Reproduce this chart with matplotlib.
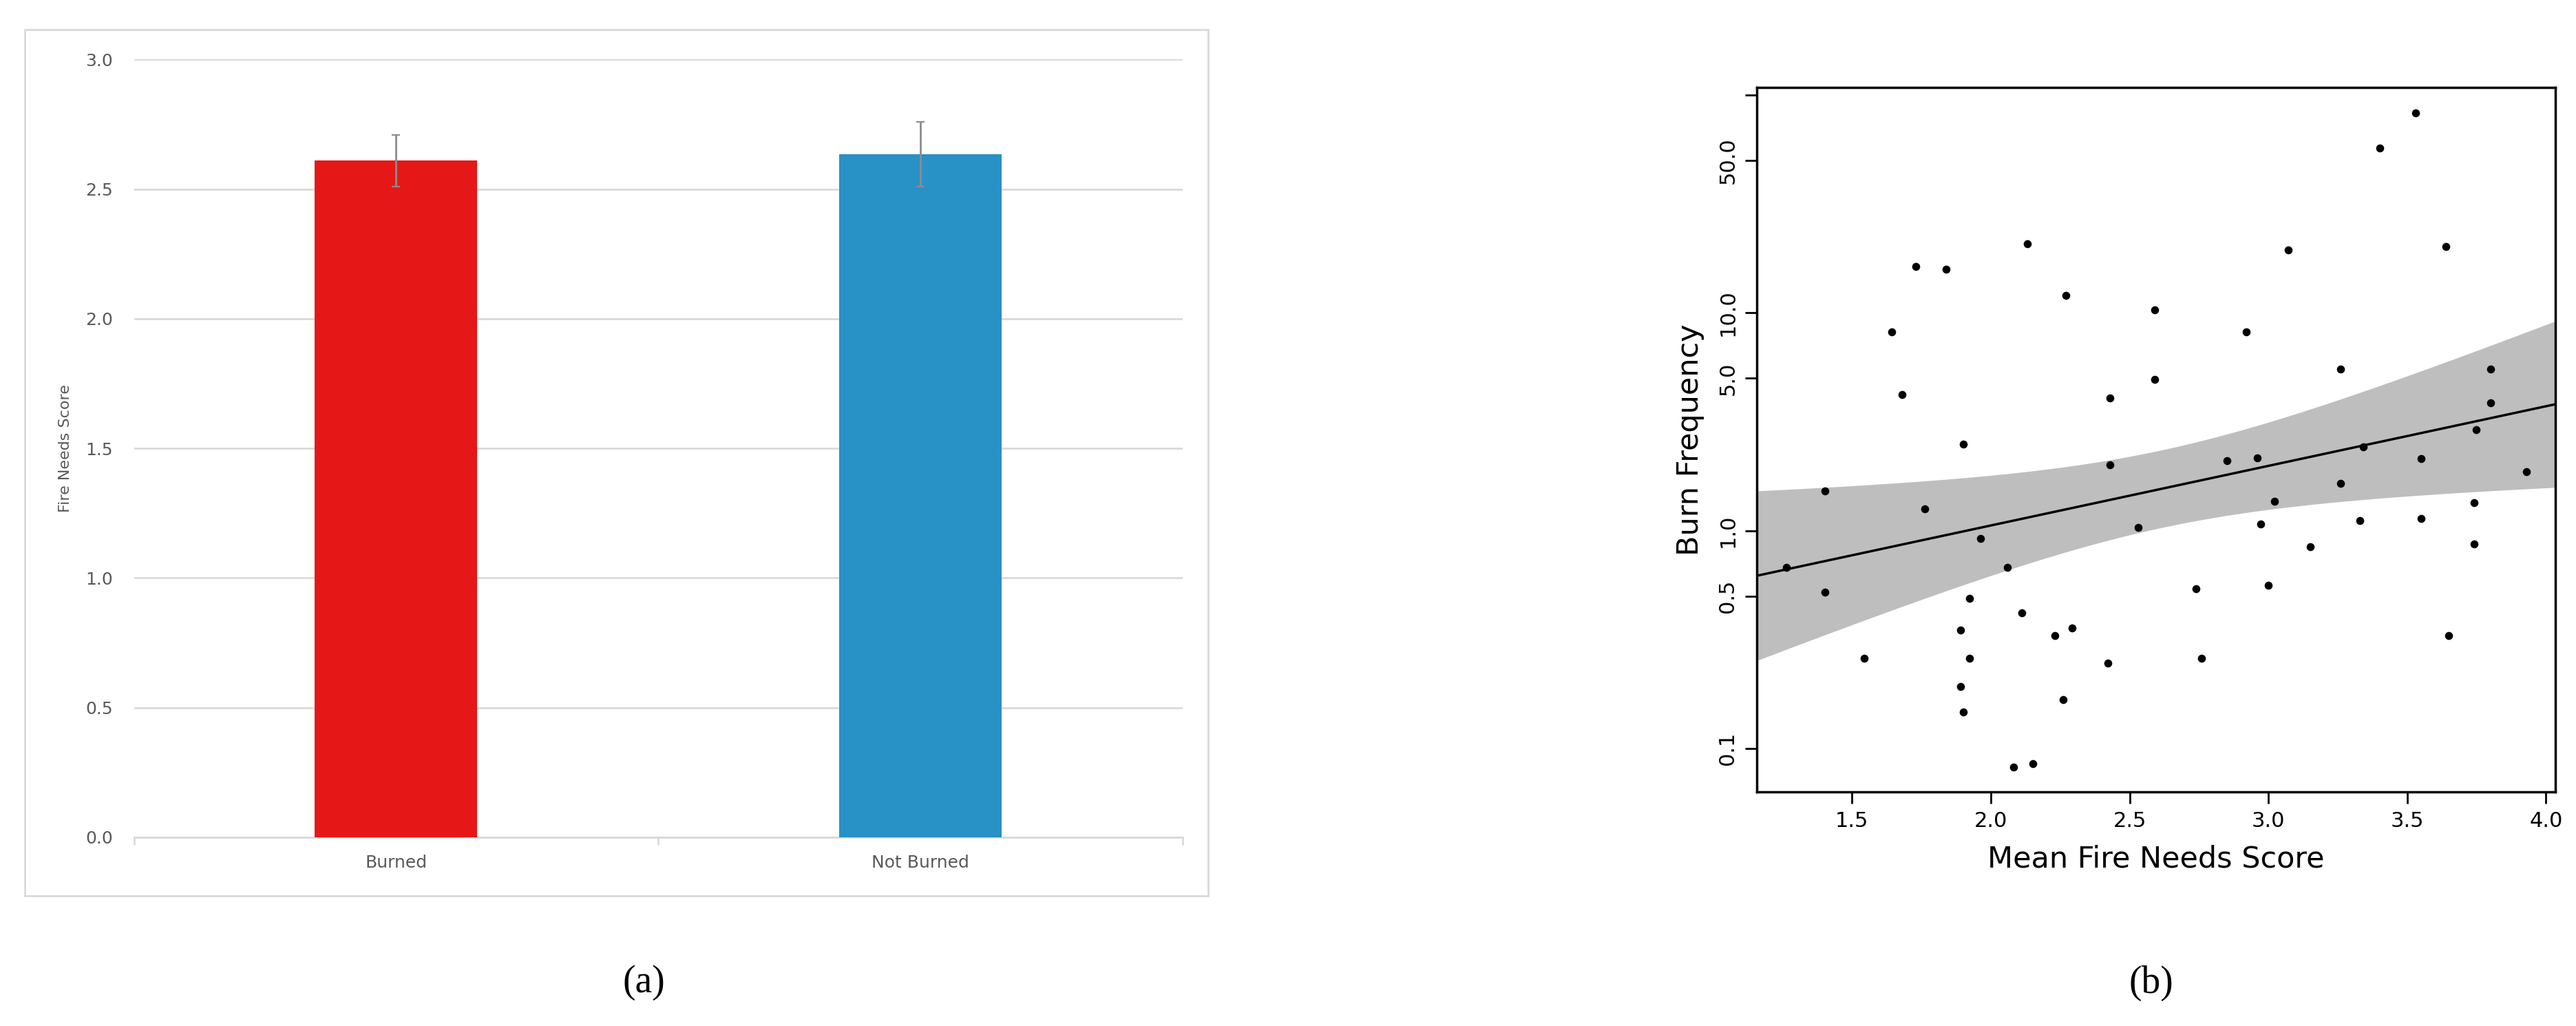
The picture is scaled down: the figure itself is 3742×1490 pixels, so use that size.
import numpy as np
import matplotlib as mpl
mpl.use('Agg')
import matplotlib.pyplot as plt
from matplotlib.patches import Rectangle
import matplotlib.ticker as mticker

# panel (a) data
groups = ['Burned', 'Not Burned']
means = [2.61, 2.635]
errs = [0.10, 0.125]
bar_colors = ['#E61717', '#2891C6']

# panel (b) data
fire_score = [1.264, 1.402, 1.402, 1.543, 1.642, 1.681, 1.730, 1.840, 1.762, 1.900,
              1.962, 1.923, 1.891, 1.923, 1.891, 1.900, 2.060, 2.111, 2.081, 2.151,
              2.132, 2.232, 2.292, 2.260, 2.270, 2.421, 2.430, 2.430, 2.530, 2.591,
              2.591, 2.740, 2.760, 2.851, 2.921, 2.960, 2.972, 3.000, 3.021, 3.072,
              3.151, 3.260, 3.260, 3.330, 3.342, 3.402, 3.530, 3.551, 3.551, 3.640,
              3.649, 3.740, 3.740, 3.749, 3.800, 3.800, 3.930]
burn_freq = [0.68, 1.52, 0.52, 0.26, 8.2, 4.2, 16.3, 15.9, 1.26, 2.5,
             0.92, 0.49, 0.35, 0.26, 0.193, 0.147, 0.68, 0.42, 0.082, 0.085,
             20.7, 0.33, 0.356, 0.168, 12.0, 0.247, 4.05, 2.0, 1.03, 10.3,
             4.95, 0.54, 0.26, 2.09, 8.2, 2.15, 1.07, 0.56, 1.36, 19.5,
             0.84, 5.5, 1.65, 1.11, 2.42, 57.0, 82.6, 2.14, 1.14, 20.1,
             0.33, 1.34, 0.87, 2.9, 5.5, 3.87, 1.86]

fig = plt.figure(figsize=(37.42, 14.90), dpi=100)

# ---- panel (a)
gray = '#595959'
fig.patches.append(Rectangle((0.0096, 0.127), 0.4594, 0.844, transform=fig.transFigure,
                             fill=False, edgecolor='#D9D9D9', linewidth=2))
ax = fig.add_axes([0.052, 0.184, 0.407, 0.758])
xpos = np.array([0.25, 0.75])
ax.bar(xpos, means, width=0.155, color=bar_colors, zorder=3)
ax.errorbar(xpos, means, yerr=errs, fmt='none', ecolor='#8C8C8C', elinewidth=2,
            capsize=4, capthick=1.5, zorder=4)
ax.set_xlim(0, 1)
ax.set_ylim(0, 3.0)
ax.set_yticks(np.arange(0, 3.01, 0.5))
ax.yaxis.set_major_formatter(mticker.FormatStrFormatter('%.1f'))
ax.grid(axis='y', color='#D9D9D9', linewidth=2, zorder=0)
ax.set_xticks(xpos)
ax.set_xticklabels(groups)
ax.set_xticks([0, 0.5, 1.0], minor=True)
ax.tick_params(axis='x', which='major', length=0, labelsize=18, labelcolor=gray, pad=18)
ax.tick_params(axis='x', which='minor', length=8, color='#D9D9D9', width=2)
ax.tick_params(axis='y', length=0, labelsize=18, labelcolor=gray, pad=22)
for s in ['top', 'right', 'left']:
    ax.spines[s].set_visible(False)
ax.spines['bottom'].set_color('#D9D9D9')
ax.spines['bottom'].set_linewidth(2)
ax.set_ylabel('Fire Needs Score', fontsize=16, color=gray, labelpad=14)
fig.text(0.25, 0.042, '(a)', ha='center', va='center', fontsize=40, family='Liberation Serif')

# ---- panel (b)
bx = fig.add_axes([0.682, 0.228, 0.31, 0.687])
x = np.array(fire_score)
y = np.log10(burn_freq)
bx.scatter(x, burn_freq, s=70, color='black', zorder=3, linewidths=0)

# least squares fit on log scale with 95% confidence band
n = len(x)
slope, icpt = np.polyfit(x, y, 1)
resid = y - (icpt + slope * x)
sig = np.sqrt(np.sum(resid ** 2) / (n - 2))
xx = np.linspace(1.157, 4.034, 200)
se = sig * np.sqrt(1 / n + (xx - x.mean()) ** 2 / np.sum((x - x.mean()) ** 2))
fit = icpt + slope * xx
bx.fill_between(xx, 10 ** (fit - 2.0 * se), 10 ** (fit + 2.0 * se), color='#BEBEBE',
                linewidth=0, zorder=1)
bx.plot(xx, 10 ** fit, color='black', linewidth=2.5, zorder=2)

bx.set_yscale('log')
bx.set_xlim(1.157, 4.034)
bx.set_ylim(0.063, 108.6)
bx.set_xticks([1.5, 2.0, 2.5, 3.0, 3.5, 4.0])
bx.xaxis.set_major_formatter(mticker.FormatStrFormatter('%.1f'))
bx.set_yticks([0.1, 0.5, 1.0, 5.0, 10.0, 50.0, 100.0])
bx.set_yticklabels(['0.1', '0.5', '1.0', '5.0', '10.0', '50.0', ''])
bx.yaxis.set_minor_locator(mticker.NullLocator())
bx.tick_params(axis='both', length=12, width=2, labelsize=22, pad=8)
for lbl in bx.get_yticklabels():
    lbl.set_rotation(90)
    lbl.set_va('center')
for s in bx.spines.values():
    s.set_linewidth(2.5)
bx.set_xlabel('Mean Fire Needs Score', fontsize=31, labelpad=14)
bx.set_ylabel('Burn Frequency', fontsize=31, labelpad=14)
fig.text(0.835, 0.042, '(b)', ha='center', va='center', fontsize=40, family='Liberation Serif')

fig.savefig('out.png', dpi=100)
